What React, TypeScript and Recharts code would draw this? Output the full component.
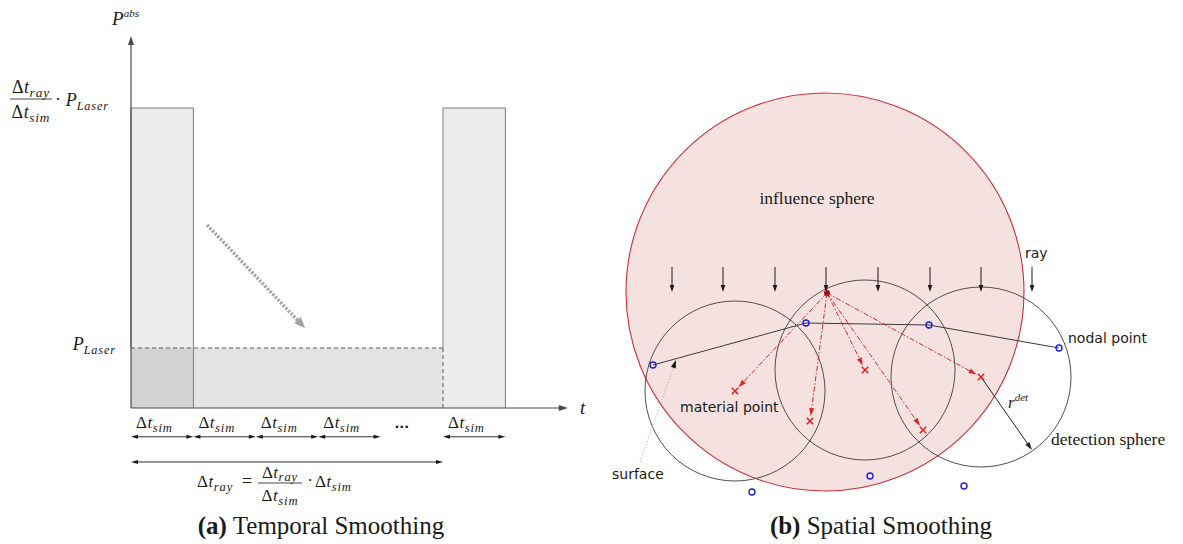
import React from 'react';
import {
  ScatterChart,
  Scatter,
  XAxis,
  YAxis,
  ReferenceArea,
  ReferenceLine,
} from 'recharts';

const SERIF = '"Liberation Serif", "DejaVu Serif", serif';
const SANS = '"DejaVu Sans", "Noto Sans", sans-serif';
const INK = '#1a1a1a';

/* ---------- (a) temporal smoothing ---------- */
// x is measured in Δt_sim steps, y in multiples of P_Laser
const P_LASER = 1;
const P_PEAK = 5; // Δt_ray / Δt_sim
const RAY_START = 0;
const RAY_END = 5;
const T_MAX = 7;
const P_MAX = 6.2;
const PULSES = [
  { from: 0, to: 1 },
  { from: 5, to: 6 },
];
const SIM_STEPS = [
  { from: 0, to: 1 },
  { from: 1, to: 2 },
  { from: 2, to: 3 },
  { from: 3, to: 4 },
  { from: 5, to: 6 },
];
const GAP_STEP = 4.5;
const SMOOTH_FROM = { x: 1.22, y: 3.05 };
const SMOOTH_TO = { x: 2.79, y: 1.33 };

/* ---------- (b) spatial smoothing ---------- */
const INFLUENCE = { x: 0, y: 0, r: 9.95 };
const DETECTION = [
  { x: -4.5, y: -4.95, r: 4.5 },
  { x: 2.0, y: -3.9, r: 4.5 },
  { x: 7.8, y: -4.25, r: 4.5 },
];
const RAY_X = [-7.65, -5.1, -2.5, 0.05, 2.65, 5.25, 7.8, 10.35];
const RAY_TOP = 1.25;
const RAY_BOTTOM = 0;
const SOURCE = { x: 0.1, y: -0.05 };
const MATERIAL = [
  { x: -4.5, y: -4.95 },
  { x: -0.75, y: -6.45 },
  { x: 2.0, y: -3.9 },
  { x: 4.9, y: -6.9 },
  { x: 7.8, y: -4.25 },
];
const SURFACE_NODES = [
  { x: -8.6, y: -3.65 },
  { x: -0.95, y: -1.55 },
  { x: 5.2, y: -1.65 },
  { x: 11.7, y: -2.8 },
];
const FREE_NODES = [
  { x: -3.65, y: -10.0 },
  { x: 2.25, y: -9.2 },
  { x: 6.95, y: -9.7 },
];
const R_DET_END = { x: 10.35, y: -7.9 };
const SURFACE_TAG = { x: -9.25, y: -8.5 };
const SURFACE_HIT = { x: -7.45, y: -3.4 };
const B_LABELS = [
  { x: -0.4, y: 4.4, text: 'influence sphere', font: SERIF, size: 17.5, anchor: 'middle' },
  { x: 10.0, y: 1.7, text: 'ray', font: SANS, size: 14, anchor: 'start' },
  { x: 12.15, y: -2.55, text: 'nodal point', font: SANS, size: 14, anchor: 'start' },
  { x: -7.25, y: -6.0, text: 'material point', font: SANS, size: 14, anchor: 'start' },
  { x: -10.65, y: -9.35, text: 'surface', font: SANS, size: 14, anchor: 'start' },
  { x: 11.3, y: -7.65, text: 'detection sphere', font: SERIF, size: 17.5, anchor: 'start' },
  { x: 9.15, y: -5.8, text: 'r', sup: 'det', font: SERIF, size: 17, anchor: 'start' },
];

// chart frames
const A_W = 600;
const A_H = 544;
const A_X: [number, number] = [-2.0994, 7.516];
const A_Y: [number, number] = [-2.2667, 6.8];
const B_W = 583;
const B_H = 440;
const B_X: [number, number] = [-11.25, 17.9];
const B_Y: [number, number] = [-10.4, 11.6];

type ArrowStyle = {
  color: string;
  width?: number;
  dash?: string;
  head?: number;
  half?: number;
  both?: boolean;
  trim?: number;
};

function headPoints(tx: number, ty: number, ux: number, uy: number, len: number, half: number) {
  const bx = tx - ux * len;
  const by = ty - uy * len;
  return `${tx},${ty} ${bx - uy * half},${by + ux * half} ${bx + uy * half},${by - ux * half}`;
}

const bad = (vals: any[]) => vals.some((v) => typeof v !== 'number' || Number.isNaN(v));

// ReferenceLine shape with arrow heads
const arrow = (s: ArrowStyle) => (p: any) => {
  const { x1, y1, x2, y2 } = p;
  if (bad([x1, y1, x2, y2])) return <g />;
  const L = Math.hypot(x2 - x1, y2 - y1) || 1;
  const ux = (x2 - x1) / L;
  const uy = (y2 - y1) / L;
  const len = s.head ?? 8;
  const half = s.half ?? 3;
  const trim = s.trim ?? 0;
  const ex = x2 - ux * trim;
  const ey = y2 - uy * trim;
  const sx = s.both ? x1 + ux * len * 0.6 : x1;
  const sy = s.both ? y1 + uy * len * 0.6 : y1;
  return (
    <g>
      <line
        x1={sx}
        y1={sy}
        x2={ex - ux * len * 0.6}
        y2={ey - uy * len * 0.6}
        stroke={s.color}
        strokeWidth={s.width ?? 1}
        strokeDasharray={s.dash}
      />
      <polygon points={headPoints(ex, ey, ux, uy, len, half)} fill={s.color} />
      {s.both && <polygon points={headPoints(x1, y1, -ux, -uy, len, half)} fill={s.color} />}
    </g>
  );
};

const axisArrow = arrow({ color: '#4a4a4a', width: 1.2, head: 9, half: 3 });
const spanArrow = arrow({ color: INK, width: 0.9, head: 7, half: 2, both: true });
const smoothArrow = arrow({ color: '#a3a3a3', width: 3.5, dash: '2.2 1.6', head: 11, half: 4.5 });
const rayArrow = arrow({ color: INK, width: 1, head: 7, half: 2.3 });
const redArrow = arrow({ color: '#d42a2a', width: 1, dash: '5 2 1.5 2', head: 8, half: 2.6, trim: 5 });
const radiusArrow = arrow({ color: '#222', width: 1, head: 8, half: 2.5 });
const leaderArrow = (p: any) => {
  const { x1, y1, x2, y2 } = p;
  if (bad([x1, y1, x2, y2])) return <g />;
  const L = Math.hypot(x2 - x1, y2 - y1) || 1;
  const ux = (x2 - x1) / L;
  const uy = (y2 - y1) / L;
  return (
    <g>
      <line x1={x1} y1={y1} x2={x2 - ux * 7} y2={y2 - uy * 7} stroke="#999" strokeWidth={0.9} strokeDasharray="1 2" />
      <polygon points={headPoints(x2, y2, ux, uy, 8, 2.5)} fill="#111" />
    </g>
  );
};

// ReferenceArea shapes: the circle inscribed in the area's box
const disc = (fill: string, stroke: string, width: number) => (p: any) => {
  const { x, y, width: w, height: h } = p;
  if (bad([x, y, w, h])) return <g />;
  return <ellipse cx={x + w / 2} cy={y + h / 2} rx={w / 2} ry={h / 2} fill={fill} stroke={stroke} strokeWidth={width} />;
};
const influenceDisc = disc('#f6e1e1', '#c9303a', 1.1);
const detectionRing = disc('none', '#3c3c3c', 0.9);

/* math text helpers */
function DeltaT({ x, y, sub, size, anchor = 'start' }: { x: number; y: number; sub: string; size: number; anchor?: string }) {
  return (
    <text x={x} y={y} fontSize={size} fill={INK} textAnchor={anchor as any} style={{ fontFamily: SERIF }}>
      <tspan>Δ</tspan>
      <tspan fontStyle="italic" dx={0.5}>
        t
      </tspan>
      <tspan fontStyle="italic" fontSize={size * 0.74} dy={size * 0.22} dx={0.5} letterSpacing={0.9}>
        {sub}
      </tspan>
    </text>
  );
}

function Frac({ x, y, size, num, den, bar }: { x: number; y: number; size: number; num: string; den: string; bar: number }) {
  return (
    <g>
      <DeltaT x={x} y={y - size * 0.32} sub={num} size={size} anchor="middle" />
      <line x1={x - bar / 2} x2={x + bar / 2} y1={y} y2={y} stroke={INK} strokeWidth={0.8} />
      <DeltaT x={x} y={y + size * 1.08} sub={den} size={size} anchor="middle" />
    </g>
  );
}

function PLaser({ x, y, size }: { x: number; y: number; size: number }) {
  return (
    <text x={x} y={y} fontSize={size} fill={INK} fontStyle="italic" textAnchor="end" style={{ fontFamily: SERIF }}>
      P
      <tspan fontSize={size * 0.68} dy={size * 0.22} letterSpacing={0.9}>
        Laser
      </tspan>
    </text>
  );
}

function TemporalLabel(props: any) {
  const { cx, cy, payload } = props;
  const serif = { fontFamily: SERIF };
  switch (payload.kind) {
    case 'pabs':
      return (
        <text x={cx} y={cy} fontSize={19} fontStyle="italic" fill={INK} style={serif}>
          P
          <tspan fontSize={11} dy={-8}>
            abs
          </tspan>
        </text>
      );
    case 't':
      return (
        <text x={cx} y={cy} fontSize={19} fontStyle="italic" fill={INK} style={serif}>
          t
        </text>
      );
    case 'peak':
      return (
        <g>
          <Frac x={cx - 100} y={cy - 9} size={18} num="ray" den="sim" bar={42} />
          <text x={cx - 73} y={cy - 3} fontSize={18} fill={INK} textAnchor="middle" style={serif}>
            ·
          </text>
          <PLaser x={cx - 22} y={cy - 2} size={18} />
        </g>
      );
    case 'laser':
      return <PLaser x={cx - 15} y={cy + 2} size={18} />;
    case 'step':
      return <DeltaT x={cx + 5} y={cy + 20} sub="sim" size={17} />;
    case 'dots':
      return (
        <text x={cx - 10} y={cy + 20} fontSize={13} fontWeight="bold" fill={INK} textAnchor="middle" style={{ fontFamily: SANS }}>
          ...
        </text>
      );
    case 'formula':
      return (
        <g>
          <DeltaT x={cx - 90} y={cy + 25} sub="ray" size={17} />
          <text x={cx - 45} y={cy + 25} fontSize={18} fill={INK} style={serif}>
            =
          </text>
          <Frac x={cx - 7} y={cy + 21} size={17} num="ray" den="sim" bar={44} />
          <text x={cx + 23} y={cy + 24} fontSize={17} fill={INK} textAnchor="middle" style={serif}>
            ·
          </text>
          <DeltaT x={cx + 28} y={cy + 25} sub="sim" size={17} />
        </g>
      );
    default:
      return <g />;
  }
}

const A_LABELS = [
  { x: -0.304, y: 6.383, kind: 'pabs' },
  { x: 7.196, y: -0.1, kind: 't' },
  { x: 0, y: P_PEAK, kind: 'peak' },
  { x: 0, y: P_LASER, kind: 'laser' },
  ...SIM_STEPS.map((s) => ({ x: s.from, y: 0, kind: 'step' })),
  { x: GAP_STEP, y: 0, kind: 'dots' },
  { x: (RAY_START + RAY_END) / 2, y: -0.9, kind: 'formula' },
];

function TemporalPanel() {
  return (
    <div style={{ position: 'absolute', left: 0, top: 0 }}>
      <ScatterChart width={A_W} height={A_H} margin={{ top: 0, right: 0, bottom: 0, left: 0 }}>
        <XAxis type="number" dataKey="x" domain={A_X} hide allowDataOverflow />
        <YAxis type="number" dataKey="y" domain={A_Y} hide allowDataOverflow />
        {PULSES.map((p, i) => (
          <ReferenceArea
            key={`pulse-${i}`}
            x1={p.from}
            x2={p.to}
            y1={0}
            y2={P_PEAK}
            fill="#ececec"
            fillOpacity={1}
            stroke="none"
          />
        ))}
        {/* smoothed power over one ray step */}
        <ReferenceArea x1={RAY_START} x2={RAY_END} y1={0} y2={P_LASER} fill="#000" fillOpacity={0.105} stroke="none" />
        {PULSES.flatMap((p, i) => [
          <ReferenceLine
            key={`top-${i}`}
            segment={[{ x: p.from, y: P_PEAK }, { x: p.to, y: P_PEAK }]}
            stroke="#7d7d7d"
            strokeWidth={1}
            ifOverflow="visible"
          />,
          <ReferenceLine
            key={`right-${i}`}
            segment={[{ x: p.to, y: 0 }, { x: p.to, y: P_PEAK }]}
            stroke="#7d7d7d"
            strokeWidth={1}
            ifOverflow="visible"
          />,
          <ReferenceLine
            key={`left-${i}`}
            segment={[{ x: p.from, y: P_LASER }, { x: p.from, y: P_PEAK }]}
            stroke="#7d7d7d"
            strokeWidth={1}
            ifOverflow="visible"
          />,
        ])}
        <ReferenceLine
          segment={[{ x: RAY_START, y: P_LASER }, { x: RAY_END, y: P_LASER }]}
          stroke="#5e5e5e"
          strokeDasharray="4 3"
          ifOverflow="visible"
        />
        <ReferenceLine
          segment={[{ x: RAY_END, y: 0 }, { x: RAY_END, y: P_LASER }]}
          stroke="#5e5e5e"
          strokeDasharray="4 3"
          ifOverflow="visible"
        />
        {/* axes */}
        <ReferenceLine segment={[{ x: 0, y: 0 }, { x: T_MAX, y: 0 }]} shape={axisArrow} ifOverflow="visible" />
        <ReferenceLine segment={[{ x: 0, y: 0 }, { x: 0, y: P_MAX }]} shape={axisArrow} ifOverflow="visible" />
        {SIM_STEPS.map((s, i) => (
          <ReferenceLine
            key={`step-${i}`}
            segment={[{ x: s.from, y: -0.48 }, { x: s.to, y: -0.48 }]}
            shape={spanArrow}
            ifOverflow="visible"
          />
        ))}
        <ReferenceLine
          segment={[{ x: RAY_START, y: -0.9 }, { x: RAY_END, y: -0.9 }]}
          shape={spanArrow}
          ifOverflow="visible"
        />
        <ReferenceLine segment={[SMOOTH_FROM, SMOOTH_TO]} shape={smoothArrow} ifOverflow="visible" />
        <Scatter data={A_LABELS} shape={TemporalLabel} isAnimationActive={false} />
      </ScatterChart>
    </div>
  );
}

const crossShape = (p: any) => (
  <g stroke="#e0201e" strokeWidth={1.5}>
    <line x1={p.cx - 3.2} y1={p.cy - 3.2} x2={p.cx + 3.2} y2={p.cy + 3.2} />
    <line x1={p.cx - 3.2} y1={p.cy + 3.2} x2={p.cx + 3.2} y2={p.cy - 3.2} />
  </g>
);
const nodeShape = (p: any) => <circle cx={p.cx} cy={p.cy} r={3} fill="none" stroke="#1f1fd8" strokeWidth={1.4} />;
const sourceShape = (p: any) => <circle cx={p.cx} cy={p.cy} r={3} fill="#a80f0f" />;
const labelShape = (p: any) => {
  const d = p.payload;
  return (
    <text
      x={p.cx}
      y={p.cy}
      fontSize={d.size}
      fill={INK}
      textAnchor={d.anchor}
      fontStyle={d.sup ? 'italic' : 'normal'}
      style={{ fontFamily: d.font }}
    >
      {d.text}
      {d.sup && (
        <tspan fontSize={d.size * 0.65} dy={-d.size * 0.4}>
          {d.sup}
        </tspan>
      )}
    </text>
  );
};

function SpatialPanel() {
  return (
    <div style={{ position: 'absolute', left: 600, top: 60 }}>
      <ScatterChart width={B_W} height={B_H} margin={{ top: 0, right: 0, bottom: 0, left: 0 }}>
        <XAxis type="number" dataKey="x" domain={B_X} hide allowDataOverflow />
        <YAxis type="number" dataKey="y" domain={B_Y} hide allowDataOverflow />
        <ReferenceArea
          x1={INFLUENCE.x - INFLUENCE.r}
          x2={INFLUENCE.x + INFLUENCE.r}
          y1={INFLUENCE.y - INFLUENCE.r}
          y2={INFLUENCE.y + INFLUENCE.r}
          shape={influenceDisc}
          ifOverflow="visible"
        />
        {DETECTION.map((c, i) => (
          <ReferenceArea
            key={`det-${i}`}
            x1={c.x - c.r}
            x2={c.x + c.r}
            y1={c.y - c.r}
            y2={c.y + c.r}
            shape={detectionRing}
            ifOverflow="visible"
          />
        ))}
        {RAY_X.map((x, i) => (
          <ReferenceLine
            key={`ray-${i}`}
            segment={[{ x, y: RAY_TOP }, { x, y: RAY_BOTTOM }]}
            shape={rayArrow}
            ifOverflow="visible"
          />
        ))}
        {SURFACE_NODES.slice(1).map((n, i) => (
          <ReferenceLine
            key={`surf-${i}`}
            segment={[SURFACE_NODES[i], n]}
            stroke="#3a3a3a"
            strokeWidth={1}
            ifOverflow="visible"
          />
        ))}
        {MATERIAL.map((m, i) => (
          <ReferenceLine key={`red-${i}`} segment={[SOURCE, m]} shape={redArrow} ifOverflow="visible" />
        ))}
        <ReferenceLine segment={[MATERIAL[4], R_DET_END]} shape={radiusArrow} ifOverflow="visible" />
        <ReferenceLine segment={[SURFACE_TAG, SURFACE_HIT]} shape={leaderArrow} ifOverflow="visible" />
        <Scatter data={MATERIAL} shape={crossShape} isAnimationActive={false} />
        <Scatter data={SURFACE_NODES} shape={nodeShape} isAnimationActive={false} />
        <Scatter data={FREE_NODES} shape={nodeShape} isAnimationActive={false} />
        <Scatter data={[SOURCE]} shape={sourceShape} isAnimationActive={false} />
        <Scatter data={B_LABELS} shape={labelShape} isAnimationActive={false} />
      </ScatterChart>
    </div>
  );
}

function Caption({ center, tag, text }: { center: number; tag: string; text: string }) {
  return (
    <div
      style={{
        position: 'absolute',
        left: center - 300,
        width: 600,
        top: 512,
        textAlign: 'center',
        fontFamily: SERIF,
        fontSize: 25,
        lineHeight: '28px',
        color: INK,
      }}
    >
      <b>{tag}</b> {text}
    </div>
  );
}

export default function App() {
  return (
    <div style={{ position: 'absolute', left: 0, top: 0, width: 1183, height: 544, background: '#fff', overflow: 'hidden' }}>
      <TemporalPanel />
      <SpatialPanel />
      <Caption center={321} tag="(a)" text="Temporal Smoothing" />
      <Caption center={881} tag="(b)" text="Spatial Smoothing" />
    </div>
  );
}
